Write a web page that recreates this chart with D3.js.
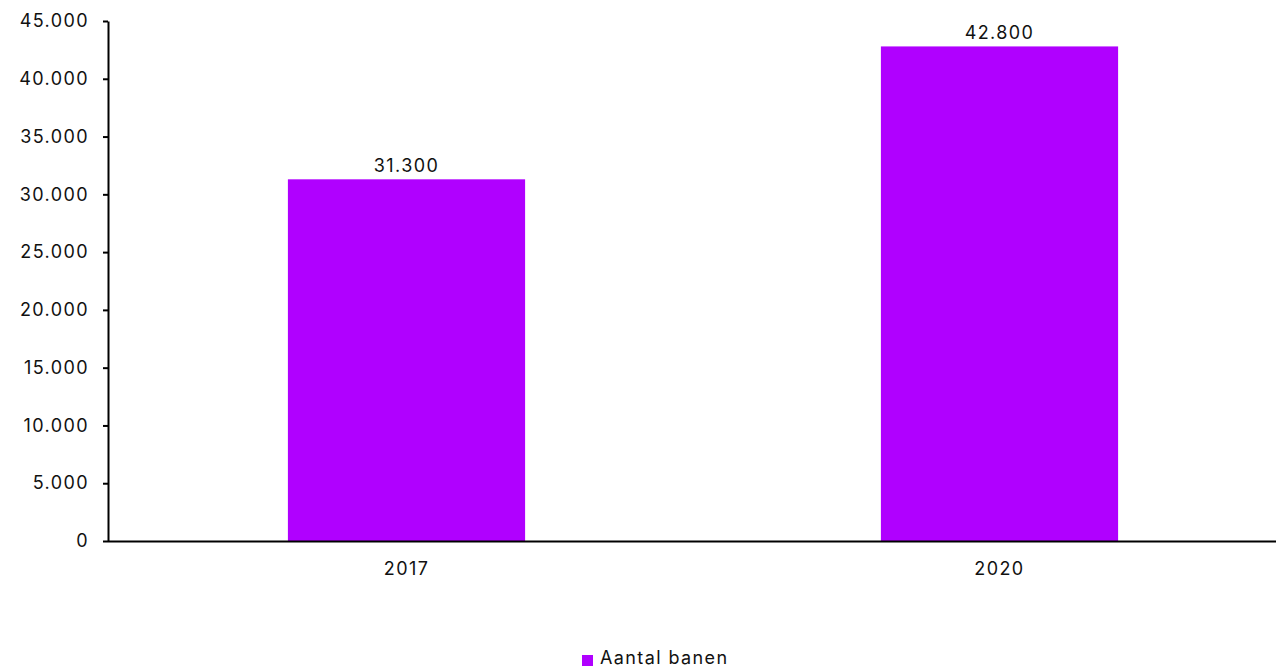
<!DOCTYPE html>
<html>
<head>
<meta charset="utf-8">
<script src="https://cdn.jsdelivr.net/npm/d3@7"></script>
<style>
  html, body { margin: 0; padding: 0; background: #fff; }
  svg { display: block; font-family: Inter, "Liberation Sans", sans-serif; }
  svg text { letter-spacing: 1.4px; }
</style>
</head>
<body>
<svg id="chart" width="1276" height="668"></svg>
<script>
// Number of jobs per year
const categories = ["2017", "2020"];
const values = [31300, 42800];
const yTicks = [0, 5000, 10000, 15000, 20000, 25000, 30000, 35000, 40000, 45000];
const seriesName = "Aantal banen";

const barColor = "#B000FF";
const svg = d3.select("#chart");

const plotLeft = 108, plotRight = 1296, plotTop = 21, plotBottom = 541;

const fmt = v => d3.format(",")(v).replace(/,/g, ".");

const x = d3.scaleBand().domain(categories).range([plotLeft + 2, plotRight]).paddingInner(0.6).paddingOuter(0.3);
const y = d3.scaleLinear().domain([0, 45000]).range([plotBottom, plotTop]);

// y axis
const yAxis = svg.append("g")
  .attr("transform", `translate(${plotLeft},0)`)
  .call(d3.axisLeft(y).tickValues(yTicks).tickFormat(fmt).tickSize(5).tickSizeOuter(0).tickPadding(14));
yAxis.select(".domain").attr("stroke", "#000").attr("stroke-width", 2);
yAxis.selectAll(".tick line").attr("stroke", "#000").attr("stroke-width", 2);
yAxis.selectAll(".tick text").attr("font-size", 18).attr("fill", "#111").attr("font-family", "Inter, sans-serif");

// bars
svg.append("g").selectAll("rect")
  .data(categories)
  .join("rect")
  .attr("x", d => x(d))
  .attr("width", x.bandwidth())
  .attr("y", (d, i) => y(values[i]))
  .attr("height", (d, i) => y(0) - y(values[i]))
  .attr("fill", barColor);

// value labels
svg.append("g").selectAll("text")
  .data(categories)
  .join("text")
  .attr("x", d => x(d) + x.bandwidth() / 2)
  .attr("y", (d, i) => y(values[i]) - 7)
  .attr("text-anchor", "middle")
  .attr("font-size", 18)
  .attr("fill", "#111")
  .text((d, i) => fmt(values[i]));

// x axis
const xAxis = svg.append("g")
  .attr("transform", `translate(0,${plotBottom})`)
  .call(d3.axisBottom(x).tickSize(0).tickPadding(21));
xAxis.select(".domain").attr("d", `M${plotLeft},0.5H${plotRight}`).attr("stroke", "#000").attr("stroke-width", 2);
xAxis.selectAll(".tick text").attr("font-size", 18).attr("fill", "#111").attr("font-family", "Inter, sans-serif");

// legend
const legend = svg.append("g").attr("transform", "translate(582,655)");
legend.append("rect").attr("width", 11).attr("height", 11).attr("fill", barColor);
legend.append("text").attr("x", 18).attr("y", 9).attr("font-size", 18).attr("fill", "#111").text(seriesName);
</script>
</body>
</html>
